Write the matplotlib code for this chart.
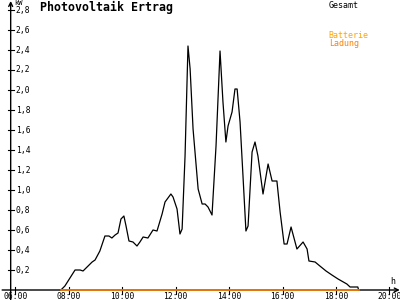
import matplotlib
matplotlib.use("Agg")
import matplotlib.pyplot as plt

# Gesamt (kW), time in decimal hours
zeit = [7.70, 7.85, 8.23, 8.42, 8.53, 8.87, 8.98, 9.16, 9.35, 9.50, 9.61, 9.73,
        9.84, 9.95, 10.06, 10.14, 10.25, 10.40, 10.55, 10.66, 10.78, 10.96,
        11.15, 11.30, 11.49, 11.60, 11.82, 11.90, 12.05, 12.16, 12.24, 12.35,
        12.46, 12.54, 12.65, 12.84, 12.99, 13.10, 13.21, 13.36, 13.51, 13.66,
        13.77, 13.88, 13.96, 14.11, 14.22, 14.30, 14.41, 14.52, 14.63, 14.71,
        14.86, 14.97, 15.08, 15.27, 15.46, 15.61, 15.79, 15.91, 16.06, 16.17,
        16.32, 16.54, 16.77, 16.92, 16.99, 17.22, 17.40, 17.63, 17.85, 18.08,
        18.41, 18.53, 18.82, 18.85]
gesamt = [0.00, 0.04, 0.20, 0.20, 0.19, 0.28, 0.30, 0.39, 0.54, 0.54, 0.52, 0.55,
          0.57, 0.71, 0.74, 0.64, 0.49, 0.48, 0.44, 0.48, 0.53, 0.52,
          0.60, 0.59, 0.76, 0.88, 0.96, 0.93, 0.81, 0.56, 0.61, 1.34,
          2.44, 2.21, 1.61, 1.01, 0.86, 0.86, 0.83, 0.75, 1.44, 2.39,
          1.88, 1.48, 1.64, 1.78, 2.01, 2.01, 1.68, 1.14, 0.59, 0.64,
          1.38, 1.48, 1.34, 0.96, 1.26, 1.09, 1.09, 0.78, 0.46, 0.46,
          0.63, 0.41, 0.48, 0.41, 0.29, 0.28, 0.24, 0.19, 0.15, 0.11,
          0.06, 0.03, 0.03, 0.00]

# Batterie Ladung (kW)
zeit_batt = [7.70, 18.85]
ladung = [0.0, 0.0]

y_ticks = [0.2, 0.4, 0.6, 0.8, 1.0, 1.2, 1.4, 1.6, 1.8, 2.0, 2.2, 2.4, 2.6, 2.8]
x_ticks = [6, 8, 10, 12, 14, 16, 18, 20]

mono = "DejaVu Sans Mono"
orange = "#ff8000"

fig = plt.figure(figsize=(4, 3), dpi=100)
ax = fig.add_axes([0, 0, 1, 1])
ax.set_xlim(5.42, 20.40)
ax.set_ylim(-0.10, 2.90)
ax.axis("off")

x_axis = 5.82  # position of the vertical axis

# axes with arrows
ax.annotate("", xy=(20.39, 0), xytext=(5.50, 0),
            arrowprops=dict(arrowstyle="->", lw=1, color="black",
                            shrinkA=0, shrinkB=0, mutation_scale=7))
ax.annotate("", xy=(x_axis, 2.89), xytext=(x_axis, -0.10),
            arrowprops=dict(arrowstyle="->", lw=1, color="black",
                            shrinkA=0, shrinkB=0, mutation_scale=7))

# y ticks
for v in y_ticks:
    ax.plot([x_axis - 0.11, x_axis + 0.11], [v, v], color="black", lw=0.8)
    ax.text(x_axis + 0.19, v, f"{v:.1f}".replace(".", ","), fontsize=5.8,
            family=mono, va="center", ha="left")

# x ticks
for h in x_ticks:
    ax.plot([h, h], [-0.035, 0.035], color="black", lw=0.8)
    ax.text(h, -0.065, f"{h:02d}:00", fontsize=5.8, family=mono,
            ha="center", va="center")

ax.plot(zeit, gesamt, color="black", lw=0.9, zorder=3)
ax.plot(zeit_batt, ladung, color=orange, lw=1.2, zorder=4)

ax.text(x_axis + 0.14, 2.87, "kW", fontsize=5, family=mono, va="center")
ax.text(6.92, 2.83, "Photovoltaik Ertrag", fontsize=8.4, family=mono,
        fontweight="bold", va="center", ha="left")
ax.text(17.73, 2.85, "Gesamt", fontsize=6, family=mono, va="center")
ax.text(17.73, 2.54, "Batterie", fontsize=6, family=mono, va="center",
        color="#ffa500")
ax.text(17.73, 2.46, "Ladung", fontsize=6, family=mono, va="center",
        color=orange)
ax.text(20.13, 0.08, "h", fontsize=6, family=mono, va="center", ha="center")

fig.savefig("out.png", dpi=100)
